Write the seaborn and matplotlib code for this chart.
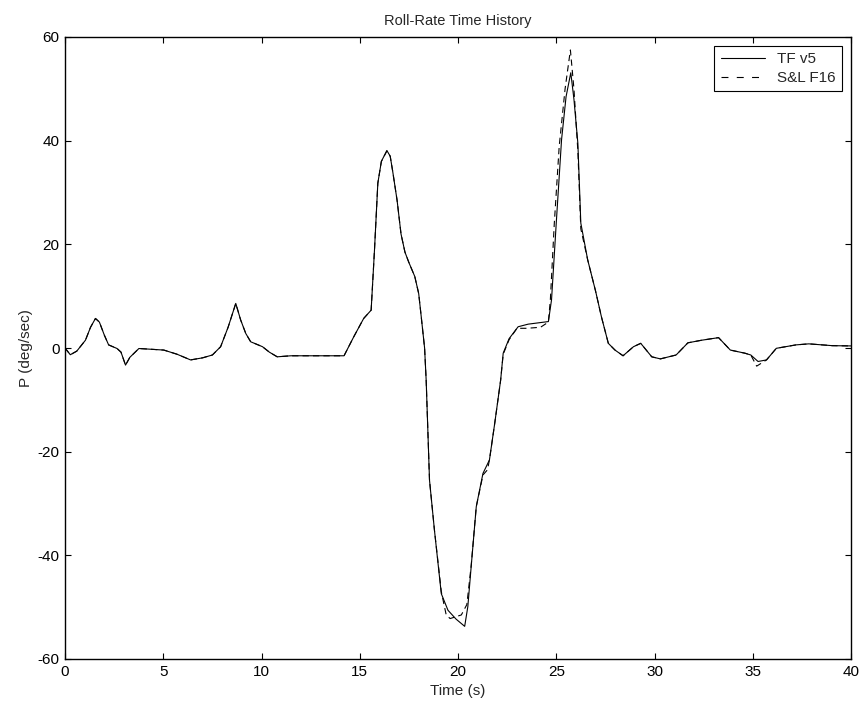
import matplotlib
matplotlib.use("Agg")
import matplotlib.pyplot as plt
import seaborn as sns
import pandas as pd

# ---- data ----
t_tf = [0, 0.27, 0.6, 1.04, 1.3, 1.55, 1.75, 2.0, 2.22, 2.65, 2.85, 3.08, 3.3, 3.76, 4.2,
        5.03, 5.7, 6.39, 7.0, 7.5, 7.92, 8.3, 8.69, 8.94, 9.2, 9.45, 10.05, 10.4, 10.8, 11.5,
        14.2, 14.7, 15.2, 15.58, 15.75, 15.92, 16.1, 16.38, 16.55, 16.68, 16.9, 17.1, 17.3,
        17.5, 17.8, 18.0, 18.13, 18.3, 18.38, 18.55, 18.8, 19.15, 19.49, 19.9, 20.34, 20.5,
        20.67, 20.93, 21.27, 21.6, 21.87, 22.17, 22.3, 22.6, 23.06, 23.57, 24.6, 24.76, 25.0,
        25.27, 25.5, 25.74, 25.9, 26.1, 26.25, 26.6, 27.0, 27.3, 27.65, 27.99, 28.4, 28.93,
        29.3, 29.86, 30.3, 31.1, 31.7, 32.4, 33.26, 33.86, 34.6, 34.9, 35.27, 35.7, 36.2,
        37.2, 37.85, 39.05, 40]
p_tf = [0, -1.3, -0.6, 1.5, 4.0, 5.7, 5.0, 2.5, 0.6, -0.1, -0.8, -3.3, -1.8, -0.1, -0.2,
        -0.4, -1.2, -2.3, -1.9, -1.35, 0.25, 4.0, 8.6, 5.4, 2.8, 1.2, 0.25, -0.8, -1.7, -1.5,
        -1.5, 2.2, 5.7, 7.3, 18.9, 31.8, 36.0, 38.1, 37.0, 34.0, 28.5, 22.0, 18.5,
        16.5, 13.8, 10.5, 6.0, 0.0, -6.2, -25.5, -35.1, -47.4, -50.6, -52.3, -53.7, -49.9,
        -42.2, -30.6, -24.2, -21.6, -14.5, -6.2, -1.0, 1.8, 4.1, 4.6, 5.1, 9.3, 24.1,
        40.2, 48.5, 53.1, 48.0, 39.5, 24.1, 17.0, 11.0, 6.0, 0.9, -0.4, -1.5, 0.25,
        0.9, -1.7, -2.1, -1.35, 1.0, 1.5, 2.0, -0.4, -1.0, -1.35, -2.6, -2.3, -0.06,
        0.6, 0.8, 0.45, 0.4]

t_sl = [0, 0.27, 0.6, 1.04, 1.3, 1.55, 1.75, 2.0, 2.22, 2.65, 2.85, 3.08, 3.3, 3.76, 4.2,
        5.03, 5.7, 6.39, 7.0, 7.5, 7.92, 8.3, 8.69, 8.94, 9.2, 9.45, 10.05, 10.4, 10.8, 11.5,
        14.2, 14.7, 15.2, 15.58, 15.75, 15.92, 16.1, 16.38, 16.55, 16.68, 16.9, 17.1, 17.3,
        17.5, 17.8, 18.0, 18.13, 18.3, 18.38, 18.55, 18.8, 19.15, 19.4, 19.6, 20.17, 20.45,
        20.67, 20.93, 21.27, 21.5, 21.6, 21.87, 22.17, 22.3, 22.6, 23.0, 23.5, 24.2, 24.6,
        24.7, 24.9, 25.15, 25.45, 25.72, 25.9, 26.1, 26.25, 26.6, 27.0, 27.3, 27.65, 27.99,
        28.4, 28.93, 29.3, 29.86, 30.3, 31.1, 31.7, 32.4, 33.26, 33.86, 34.6, 34.9, 35.2,
        35.7, 36.2, 37.2, 37.85, 39.05, 40]
p_sl = [0, -1.3, -0.6, 1.5, 4.0, 5.7, 5.0, 2.5, 0.6, -0.1, -0.8, -3.3, -1.8, -0.1, -0.2,
        -0.4, -1.2, -2.3, -1.9, -1.35, 0.25, 4.0, 8.6, 5.4, 2.8, 1.2, 0.25, -0.8, -1.7, -1.5,
        -1.5, 2.2, 5.7, 7.3, 18.9, 31.8, 36.0, 38.0, 37.0, 34.0, 28.5, 22.0, 18.5,
        16.5, 13.8, 10.5, 6.0, 0.0, -6.2, -25.5, -35.1, -47.0, -51.5, -52.2, -51.5, -49.5,
        -42.0, -30.6, -24.5, -23.5, -21.6, -14.5, -6.2, -1.2, 1.6, 3.8, 3.8, 4.0, 5.0,
        9.3, 24.0, 38.9, 50.0, 57.5, 50.0, 38.0, 23.0, 17.0, 11.0, 6.0, 0.9, -0.4,
        -1.5, 0.25, 0.9, -1.7, -2.1, -1.35, 1.0, 1.5, 2.0, -0.4, -1.0, -1.35, -3.5,
        -2.3, -0.06, 0.6, 0.8, 0.45, 0.4]

series_names = ["TF v5", "S&L F16"]
x_ticks = [0, 5, 10, 15, 20, 25, 30, 35, 40]
y_ticks = [-60, -40, -20, 0, 20, 40, 60]

# ---- style ----
sns.set_style("ticks")
plt.rcParams["font.family"] = ["Liberation Sans", "DejaVu Sans"]
plt.rcParams["axes.unicode_minus"] = False
plt.rcParams["lines.scale_dashes"] = False
plt.rcParams["xtick.direction"] = "in"
plt.rcParams["ytick.direction"] = "in"

fig = plt.figure(figsize=(8.61, 7.09), dpi=100)
ax = fig.add_axes([65 / 861, 1 - 659 / 709, (851 - 65) / 861, (659 - 37) / 709])

df_tf = pd.DataFrame({"t": t_tf, "p": p_tf})
df_sl = pd.DataFrame({"t": t_sl, "p": p_sl})

sns.lineplot(data=df_tf, x="t", y="p", ax=ax, color="black", linewidth=0.8,
             label=series_names[0], sort=False, estimator=None)
sns.lineplot(data=df_sl, x="t", y="p", ax=ax, color="black", linewidth=0.8,
             label=series_names[1], sort=False, estimator=None, linestyle="--")
ax.lines[1].set_dashes((4.5, 3))

ax.set_xlim(0, 40)
ax.set_ylim(-60, 60)
ax.set_xticks(x_ticks)
ax.set_yticks(y_ticks)
ax.tick_params(axis="both", which="both", direction="in", length=4, width=0.8,
               top=True, right=True, labelsize=11, colors="black", pad=4)
for s in ax.spines.values():
    s.set_visible(True)
    s.set_color("black")
    s.set_linewidth(1.0)

ax.set_title("Roll-Rate Time History", fontsize=10.5, pad=9)
ax.set_xlabel("Time (s)", fontsize=11, labelpad=4)
ax.set_ylabel("P (deg/sec)", fontsize=11, labelpad=3)

leg = ax.legend(loc="upper right", fontsize=11, frameon=True, fancybox=False,
                borderaxespad=0.6, handlelength=2.9, handletextpad=0.8,
                labelspacing=0.3, borderpad=0.4)
leg.get_frame().set_edgecolor("black")
leg.get_frame().set_linewidth(0.8)
leg.get_frame().set_alpha(1)
leg.get_lines()[1].set_dashes((5, 6))

fig.savefig("out.png", dpi=100, facecolor="white")
